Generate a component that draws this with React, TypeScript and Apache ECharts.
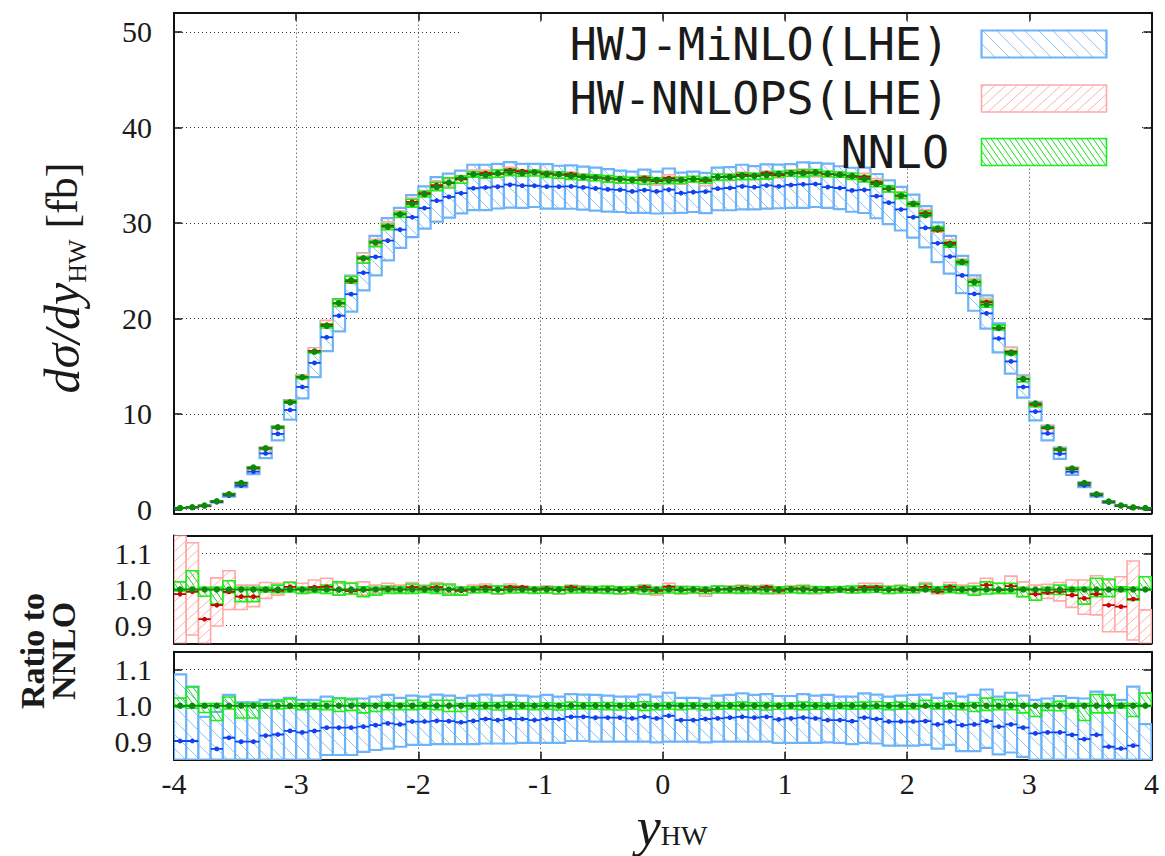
import React, { useEffect, useRef } from "react";
import * as echarts from "echarts";

// ---------------- data ----------------
const X_MIN = -4;
const BIN_WIDTH = 0.1;

// NNLO d sigma / d y_HW  [fb], 80 bins of 0.1 from -4 to 4
const nnloXsec = [
  0.15, 0.24, 0.42, 0.87, 1.6, 2.78, 4.4, 6.4, 8.6, 11.2,
  13.85, 16.5, 19.2, 21.6, 24.0, 26.3, 27.95, 29.6, 30.9, 32.0,
  33.0, 33.75, 34.2, 34.7, 35.1, 35.0, 35.2, 35.3, 35.2, 35.3,
  35.1, 35.1, 34.9, 34.8, 34.75, 34.65, 34.6, 34.5, 34.5, 34.5,
  34.45, 34.5, 34.6, 34.55, 34.8, 34.8, 34.9, 34.9, 35.0, 35.15,
  35.2, 35.2, 35.3, 35.15, 35.05, 34.9, 34.6, 34.06, 33.6, 32.85,
  32.0, 30.8, 29.4, 27.7, 25.9, 23.8, 21.45, 19.0, 16.35, 13.65,
  11.1, 8.6, 6.3, 4.3, 2.78, 1.6, 0.83, 0.42, 0.22, 0.15,
];

// NNLO uncertainty band, relative to NNLO
const nnloBandHi = [
  1.021, 1.052, 1.006, 1.006, 1.024, 1.006, 1.006, 1.006, 1.012, 1.019,
  1.006, 1.007, 1.012, 1.021, 1.017, 1.007, 1.006, 1.009, 1.007, 1.015,
  1.009, 1.015, 1.015, 1.006, 1.007, 1.009, 1.009, 1.01, 1.008, 1.006,
  1.008, 1.007, 1.01, 1.008, 1.008, 1.009, 1.007, 1.008, 1.011, 1.006,
  1.009, 1.007, 1.008, 1.006, 1.009, 1.008, 1.01, 1.008, 1.009, 1.007,
  1.008, 1.01, 1.008, 1.007, 1.008, 1.009, 1.01, 1.011, 1.008, 1.01,
  1.006, 1.015, 1.007, 1.012, 1.007, 1.009, 1.021, 1.017, 1.017, 1.006,
  1.0, 1.006, 1.012, 1.006, 1.006, 1.031, 1.029, 1.007, 1.006, 1.035,
];
const nnloBandLo = [
  0.996, 0.993, 0.981, 0.959, 0.991, 0.966, 0.966, 0.993, 0.991, 0.993,
  0.989, 0.991, 0.989, 0.984, 0.987, 0.98, 0.984, 0.989, 0.989, 0.989,
  0.991, 0.989, 0.984, 0.984, 0.991, 0.991, 0.988, 0.99, 0.991, 0.989,
  0.99, 0.988, 0.99, 0.991, 0.99, 0.989, 0.988, 0.99, 0.987, 0.989,
  0.99, 0.989, 0.991, 0.988, 0.99, 0.991, 0.989, 0.99, 0.988, 0.99,
  0.991, 0.989, 0.99, 0.991, 0.992, 0.99, 0.991, 0.992, 0.989, 0.99,
  0.991, 0.996, 0.991, 0.991, 0.989, 0.984, 0.987, 0.989, 0.989, 0.98,
  0.97, 0.987, 0.986, 0.994, 0.959, 0.98, 0.98, 0.994, 0.97, 0.998,
];

// HW-NNLOPS(LHE) / NNLO
const nnlopsRatio = [
  0.987, 0.994, 0.917, 0.956, 0.993, 0.98, 0.98, 0.998, 0.996, 1.007,
  1.0, 1.006, 1.007, 0.998, 0.995, 0.998, 1.0, 1.003, 1.0, 1.006,
  1.003, 1.006, 1.0, 0.996, 1.0, 1.006, 0.998, 1.006, 1.006, 1.0,
  1.003, 0.998, 1.006, 1.002, 1.0, 1.0, 0.998, 1.0, 1.006, 0.996,
  1.007, 0.998, 1.0, 0.996, 1.0, 1.002, 1.004, 1.002, 1.006, 0.996,
  1.002, 1.003, 0.998, 0.998, 1.0, 0.998, 1.006, 1.006, 0.998, 1.0,
  0.998, 1.007, 0.994, 1.007, 0.998, 1.0, 1.012, 0.998, 1.009, 1.0,
  0.987, 0.991, 0.994, 0.984, 0.975, 0.987, 0.956, 0.952, 0.973, 0.84,
];
const nnlopsHi = [
  1.17, 1.13, 1.003, 1.032, 1.052, 1.012, 1.012, 1.019, 1.017, 1.021,
  1.017, 1.026, 1.031, 1.017, 1.019, 1.021, 1.012, 1.017, 1.012, 1.019,
  1.012, 1.019, 1.012, 1.007, 1.012, 1.015, 1.009, 1.015, 1.009, 1.007,
  1.009, 1.006, 1.012, 1.009, 1.007, 1.007, 1.006, 1.007, 1.012, 1.006,
  1.017, 1.009, 1.007, 1.006, 1.009, 1.009, 1.012, 1.009, 1.012, 1.006,
  1.009, 1.012, 1.007, 1.007, 1.007, 1.007, 1.017, 1.017, 1.009, 1.012,
  1.007, 1.019, 1.006, 1.019, 1.012, 1.017, 1.031, 1.017, 1.037, 1.021,
  1.012, 1.014, 1.019, 1.026, 1.026, 1.038, 1.026, 1.035, 1.079, 0.943,
];
const nnlopsLo = [
  0.83, 0.873, 0.83, 0.898, 0.944, 0.944, 0.952, 0.975, 0.984, 0.994,
  0.989, 0.994, 0.998, 0.984, 0.987, 0.984, 0.989, 0.994, 0.991, 0.994,
  0.994, 0.994, 0.989, 0.984, 0.991, 0.994, 0.987, 0.994, 0.991, 0.991,
  0.991, 0.987, 0.994, 0.991, 0.991, 0.991, 0.987, 0.989, 0.994, 0.984,
  0.994, 0.987, 0.989, 0.981, 0.991, 0.989, 0.991, 0.989, 0.991, 0.987,
  0.991, 0.991, 0.987, 0.991, 0.994, 0.991, 0.996, 0.998, 0.989, 0.994,
  0.991, 0.994, 0.987, 0.996, 0.991, 0.987, 1.0, 0.989, 0.998, 0.98,
  0.97, 0.975, 0.968, 0.95, 0.931, 0.929, 0.882, 0.882, 0.859, 0.83,
];

// HWJ-MiNLO(LHE) / NNLO
const minloRatio = [
  0.902, 0.902, 0.845, 0.88, 0.911, 0.9, 0.9, 0.917, 0.92, 0.93,
  0.926, 0.93, 0.939, 0.939, 0.939, 0.942, 0.946, 0.951, 0.948, 0.956,
  0.956, 0.958, 0.957, 0.954, 0.958, 0.963, 0.96, 0.963, 0.963, 0.96,
  0.963, 0.963, 0.969, 0.969, 0.967, 0.967, 0.967, 0.965, 0.969, 0.965,
  0.972, 0.96, 0.96, 0.963, 0.965, 0.967, 0.969, 0.967, 0.969, 0.962,
  0.965, 0.967, 0.965, 0.96, 0.96, 0.957, 0.967, 0.963, 0.956, 0.956,
  0.956, 0.957, 0.948, 0.956, 0.946, 0.948, 0.957, 0.942, 0.948, 0.939,
  0.923, 0.926, 0.926, 0.919, 0.907, 0.919, 0.886, 0.881, 0.889, 0.845,
];
const minloHi = [
  1.087, 1.053, 0.969, 0.983, 1.03, 1.009, 1.009, 1.016, 1.016, 1.022,
  1.016, 1.016, 1.025, 1.02, 1.02, 1.02, 1.025, 1.03, 1.022, 1.028,
  1.025, 1.031, 1.028, 1.022, 1.028, 1.031, 1.028, 1.03, 1.028, 1.025,
  1.03, 1.025, 1.032, 1.031, 1.03, 1.028, 1.025, 1.025, 1.031, 1.025,
  1.036, 1.022, 1.022, 1.02, 1.028, 1.03, 1.034, 1.03, 1.032, 1.027,
  1.027, 1.032, 1.028, 1.03, 1.025, 1.025, 1.034, 1.031, 1.025, 1.028,
  1.03, 1.031, 1.022, 1.034, 1.025, 1.03, 1.045, 1.025, 1.036, 1.028,
  1.016, 1.02, 1.027, 1.022, 1.02, 1.039, 1.03, 1.016, 1.053, 0.949,
];
const minloLo = [
  0.84, 0.84, 0.84, 0.84, 0.84, 0.84, 0.84, 0.84, 0.84, 0.84,
  0.84, 0.84, 0.863, 0.863, 0.863, 0.872, 0.877, 0.881, 0.886, 0.891,
  0.891, 0.893, 0.893, 0.893, 0.893, 0.895, 0.895, 0.895, 0.897, 0.897,
  0.897, 0.897, 0.902, 0.902, 0.9, 0.9, 0.9, 0.9, 0.9, 0.898,
  0.9, 0.9, 0.9, 0.898, 0.9, 0.9, 0.9, 0.9, 0.9, 0.897,
  0.897, 0.897, 0.897, 0.898, 0.897, 0.893, 0.897, 0.895, 0.889, 0.889,
  0.889, 0.891, 0.881, 0.891, 0.874, 0.874, 0.883, 0.865, 0.87, 0.858,
  0.84, 0.84, 0.84, 0.84, 0.84, 0.84, 0.84, 0.84, 0.84, 0.84,
];

const legendLabels = ["HWJ-MiNLO(LHE)", "HW-NNLOPS(LHE)", "NNLO"];

// ---------------- styles ----------------
const SERIF = "'Liberation Serif', 'DejaVu Serif', serif";
const MONO = "'DejaVu Sans Mono', 'Liberation Mono', monospace";

type BandStyle = {
  fill: string;
  stroke: string;
  lw: number;
  hatch: string;
  hatchW: number;
  spacing: number;
  k: number;
  dir: number;
};
const BLUE: BandStyle = { fill: "#ffffff", stroke: "#6db3f7", lw: 2.2, hatch: "#8cc3f7", hatchW: 1, spacing: 14, k: 1, dir: 1 };
const RED: BandStyle = { fill: "#ffffff", stroke: "#ffa8a8", lw: 1.6, hatch: "#ffb2b2", hatchW: 1, spacing: 11, k: 1.1, dir: -1 };
const GREEN: BandStyle = { fill: "none", stroke: "#19f019", lw: 1.6, hatch: "#19e019", hatchW: 1, spacing: 6, k: 0.7, dir: 1 };

const BLUE_C = { color: "#1040f0", r: 2.4, lw: 1.8 };
const RED_C = { color: "#cc0000", r: 2.4, lw: 1.8 };
const GREEN_C = { color: "#0a8a0a", r: 3.2, lw: 2 };

// ---------------- layout ----------------
const PLOT_L = 174;
const PLOT_W = 977.5;
const GRIDS = [
  { top: 12.7, height: 500.6 },
  { top: 535.5, height: 107.8 },
  { top: 651.7, height: 108 },
];

function hatchLines(x0: number, y0: number, x1: number, y1: number, s: BandStyle, z?: number) {
  const out: any[] = [];
  const { spacing, k, dir } = s;
  const extra = z === undefined ? {} : { z };
  if (dir > 0) {
    const cmin = x0 - k * y1, cmax = x1 - k * y0;
    for (let n = Math.ceil(cmin / spacing); n * spacing <= cmax; n++) {
      const c = n * spacing;
      const ya = Math.max(y0, (x0 - c) / k), yb = Math.min(y1, (x1 - c) / k);
      if (yb > ya) out.push({ type: "line", silent: true, ...extra, shape: { x1: c + k * ya, y1: ya, x2: c + k * yb, y2: yb }, style: { stroke: s.hatch, lineWidth: s.hatchW } });
    }
  } else {
    const cmin = x0 + k * y0, cmax = x1 + k * y1;
    for (let n = Math.ceil(cmin / spacing); n * spacing <= cmax; n++) {
      const c = n * spacing;
      const ya = Math.max(y0, (c - x1) / k), yb = Math.min(y1, (c - x0) / k);
      if (yb > ya) out.push({ type: "line", silent: true, ...extra, shape: { x1: c - k * ya, y1: ya, x2: c - k * yb, y2: yb }, style: { stroke: s.hatch, lineWidth: s.hatchW } });
    }
  }
  return out;
}

function boxElements(l: number, t: number, r: number, b: number, s: BandStyle, z?: number) {
  const extra = z === undefined ? {} : { z };
  return [
    { type: "rect", silent: true, ...extra, shape: { x: l, y: t, width: r - l, height: b - t }, style: { fill: s.fill, stroke: "none" } },
    ...hatchLines(l, t, r, b, s, z),
    { type: "rect", silent: true, ...extra, shape: { x: l, y: t, width: r - l, height: b - t }, style: { fill: "none", stroke: s.stroke, lineWidth: s.lw } },
  ];
}

function bandRender(s: BandStyle) {
  return (params: any, api: any) => {
    const x0 = api.value(0), x1 = api.value(1), lo = api.value(2), hi = api.value(3);
    const a = api.coord([x0, hi]);
    const b = api.coord([x1, lo]);
    const cs = params.coordSys;
    const top = Math.max(a[1], cs.y);
    const bot = Math.min(b[1], cs.y + cs.height);
    if (bot <= top) return { type: "group", children: [] };
    return { type: "group", children: boxElements(a[0], top, b[0], bot, s) };
  };
}

function centralRender(c: { color: string; r: number; lw: number }) {
  return (params: any, api: any) => {
    const x0 = api.value(0), x1 = api.value(1), v = api.value(2);
    const a = api.coord([x0, v]);
    const b = api.coord([x1, v]);
    const m = api.coord([(x0 + x1) / 2, v]);
    const cs = params.coordSys;
    if (a[1] < cs.y || a[1] > cs.y + cs.height) return { type: "group", children: [] };
    return {
      type: "group",
      children: [
        { type: "line", silent: true, shape: { x1: a[0], y1: a[1], x2: b[0], y2: b[1] }, style: { stroke: c.color, lineWidth: c.lw } },
        { type: "circle", silent: true, shape: { cx: m[0], cy: m[1], r: c.r }, style: { fill: c.color } },
      ],
    };
  };
}

function binLo(i: number) {
  return Math.round((X_MIN + i * BIN_WIDTH) * 100) / 100;
}
function binHi(i: number) {
  return Math.round((X_MIN + (i + 1) * BIN_WIDTH) * 100) / 100;
}

function bandData(scale: number[] | null, lo: number[], hi: number[]) {
  return lo.map((_, i) => {
    const f = scale ? scale[i] : 1;
    return [binLo(i), binHi(i), f * lo[i], f * hi[i]];
  });
}
function centralData(scale: number[] | null, v: number[]) {
  return v.map((_, i) => {
    const f = scale ? scale[i] : 1;
    return [binLo(i), binHi(i), f * v[i]];
  });
}

function bandSeries(g: number, data: any[], s: BandStyle, z: number) {
  return {
    type: "custom",
    xAxisIndex: g,
    yAxisIndex: g,
    z,
    clip: true,
    silent: true,
    renderItem: bandRender(s),
    encode: { x: [0, 1], y: [2, 3] },
    data,
  };
}
function centralSeries(g: number, data: any[], c: any, z: number) {
  return {
    type: "custom",
    xAxisIndex: g,
    yAxisIndex: g,
    z,
    clip: true,
    silent: true,
    renderItem: centralRender(c),
    encode: { x: [0, 1], y: 2 },
    data,
  };
}

const dotted = { type: [1, 3] as any, color: "#333333", width: 1 };
const frameLine = { color: "#111111", width: 2 };
const tickStyle = { color: "#111111", width: 1.5 };
const labelFont = { fontFamily: SERIF, fontSize: 30, color: "#1a1a1a" };

function buildOption() {
  const nnloSelf = nnloXsec.map((v) => v / v);

  const xAxes: any[] = [];
  const yAxes: any[] = [];
  GRIDS.forEach((_, g) => {
    xAxes.push({
      gridIndex: g, type: "value", min: -4, max: 4, interval: 1, position: "bottom",
      axisLine: { show: true, onZero: false, lineStyle: frameLine },
      axisTick: { show: true, inside: true, length: 8, lineStyle: tickStyle },
      axisLabel: { show: g === 2, margin: 9, ...labelFont },
      splitLine: { show: true, lineStyle: dotted },
    });
  });
  GRIDS.forEach((_, g) => {
    xAxes.push({
      gridIndex: g, type: "value", min: -4, max: 4, interval: 1, position: "top",
      axisLine: { show: true, onZero: false, lineStyle: frameLine },
      axisTick: { show: true, inside: true, length: 8, lineStyle: tickStyle },
      axisLabel: { show: false },
      splitLine: { show: false },
    });
  });
  GRIDS.forEach((_, g) => {
    const main = g === 0;
    yAxes.push({
      gridIndex: g, type: "value", position: "left",
      min: main ? -0.4 : 0.85, max: main ? 52 : 1.15, splitNumber: main ? 5 : 3,
      axisLine: { show: true, onZero: false, lineStyle: frameLine },
      axisTick: { show: true, inside: true, length: 8, lineStyle: tickStyle },
      axisLabel: {
        show: true, margin: 22, ...labelFont, showMinLabel: false, showMaxLabel: false,
        formatter: main
          ? (v: number) => (Math.abs(v - Math.round(v / 10) * 10) < 1e-6 ? String(Math.round(v)) : "")
          : (v: number) => {
              const r = Math.round(v * 10) / 10;
              return Math.abs(v - r) < 1e-6 ? r.toFixed(1) : "";
            },
      },
      splitLine: { show: true, lineStyle: dotted },
    });
  });
  GRIDS.forEach((_, g) => {
    const main = g === 0;
    yAxes.push({
      gridIndex: g, type: "value", position: "right",
      min: main ? -0.4 : 0.85, max: main ? 52 : 1.15, splitNumber: main ? 5 : 3,
      axisLine: { show: true, onZero: false, lineStyle: frameLine },
      axisTick: { show: true, inside: true, length: 8, lineStyle: tickStyle },
      axisLabel: { show: false },
      splitLine: { show: false },
    });
  });

  const series: any[] = [
    // main panel
    bandSeries(0, bandData(nnloXsec, minloLo, minloHi), BLUE, 2),
    bandSeries(0, bandData(nnloXsec, nnlopsLo, nnlopsHi), RED, 3),
    bandSeries(0, bandData(nnloXsec, nnloBandLo, nnloBandHi), GREEN, 4),
    centralSeries(0, centralData(nnloXsec, minloRatio), BLUE_C, 5),
    centralSeries(0, centralData(nnloXsec, nnlopsRatio), RED_C, 6),
    centralSeries(0, centralData(null, nnloXsec), GREEN_C, 7),
    // ratio NNLOPS / NNLO
    bandSeries(1, bandData(null, nnlopsLo, nnlopsHi), RED, 3),
    bandSeries(1, bandData(null, nnloBandLo, nnloBandHi), GREEN, 4),
    centralSeries(1, centralData(null, nnlopsRatio), RED_C, 6),
    centralSeries(1, centralData(null, nnloSelf), GREEN_C, 7),
    // ratio MiNLO / NNLO
    bandSeries(2, bandData(null, minloLo, minloHi), BLUE, 2),
    bandSeries(2, bandData(null, nnloBandLo, nnloBandHi), GREEN, 4),
    centralSeries(2, centralData(null, minloRatio), BLUE_C, 5),
    centralSeries(2, centralData(null, nnloSelf), GREEN_C, 7),
  ];

  // legend
  const legendStyles = [BLUE, RED, GREEN];
  const legendY = [44, 98.5, 152];
  const legendEls: any[] = [];
  legendLabels.forEach((lab, i) => {
    legendEls.push({
      type: "text", z: 20, silent: true, x: 949, y: legendY[i],
      style: { text: lab, fontFamily: MONO, fontSize: 45, fill: "#1a1a1a", align: "right", textAlign: "right", verticalAlign: "middle", textVerticalAlign: "middle" },
    });
    const t = legendY[i] - 13.5;
    legendEls.push(...boxElements(981.5, t, 1106.5, t + 27, { ...legendStyles[i], fill: "#ffffff" }, 20));
  });

  const graphic: any[] = [
    // opaque key background (covers grid lines only)
    { type: "rect", z: 1, silent: true, shape: { x: 462, y: 22, width: 680, height: 146 }, style: { fill: "#ffffff" } },
    ...legendEls,
    // y axis title
    {
      type: "text", z: 20, silent: true, x: 62, y: 278, rotation: Math.PI / 2,
      style: {
        text: "{i|dσ/dy}{s|HW}{r| [fb]}",
        align: "center", textAlign: "center", verticalAlign: "middle", textVerticalAlign: "middle",
        fill: "#1a1a1a",
        rich: {
          i: { fontFamily: SERIF, fontStyle: "italic", fontSize: 50, lineHeight: 56, verticalAlign: "middle" },
          s: { fontFamily: SERIF, fontSize: 26, lineHeight: 56, verticalAlign: "bottom" },
          r: { fontFamily: SERIF, fontSize: 44, lineHeight: 56, verticalAlign: "middle" },
        },
      },
    },
    // ratio title
    {
      type: "text", z: 20, silent: true, x: 48, y: 651, rotation: Math.PI / 2,
      style: {
        text: "Ratio to\nNNLO", fontFamily: SERIF, fontWeight: "bold", fontSize: 34, lineHeight: 31,
        fill: "#1a1a1a", align: "center", textAlign: "center", verticalAlign: "middle", textVerticalAlign: "middle",
      },
    },
    // x axis title
    {
      type: "text", z: 20, silent: true, x: 672, y: 827,
      style: {
        text: "{i|y}{s|HW}",
        align: "center", textAlign: "center", verticalAlign: "middle", textVerticalAlign: "middle",
        fill: "#1a1a1a",
        rich: {
          i: { fontFamily: SERIF, fontStyle: "italic", fontSize: 54, lineHeight: 44, verticalAlign: "middle" },
          s: { fontFamily: SERIF, fontSize: 28, lineHeight: 44, verticalAlign: "bottom" },
        },
      },
    },
  ];

  return {
    animation: false,
    backgroundColor: "#ffffff",
    grid: GRIDS.map((g) => ({ left: PLOT_L, width: PLOT_W, top: g.top, height: g.height, containLabel: false, outerBoundsMode: "none" })),
    xAxis: xAxes,
    yAxis: yAxes,
    series,
    graphic,
  };
}

export default function App() {
  const ref = useRef<HTMLDivElement>(null);
  useEffect(() => {
    if (!ref.current) return;
    const chart = echarts.init(ref.current, null, { renderer: "svg" });
    chart.setOption(buildOption() as any);
    return () => chart.dispose();
  }, []);
  return <div ref={ref} style={{ position: "absolute", left: 0, top: 0, width: 1165, height: 856, background: "#fff" }} />;
}
